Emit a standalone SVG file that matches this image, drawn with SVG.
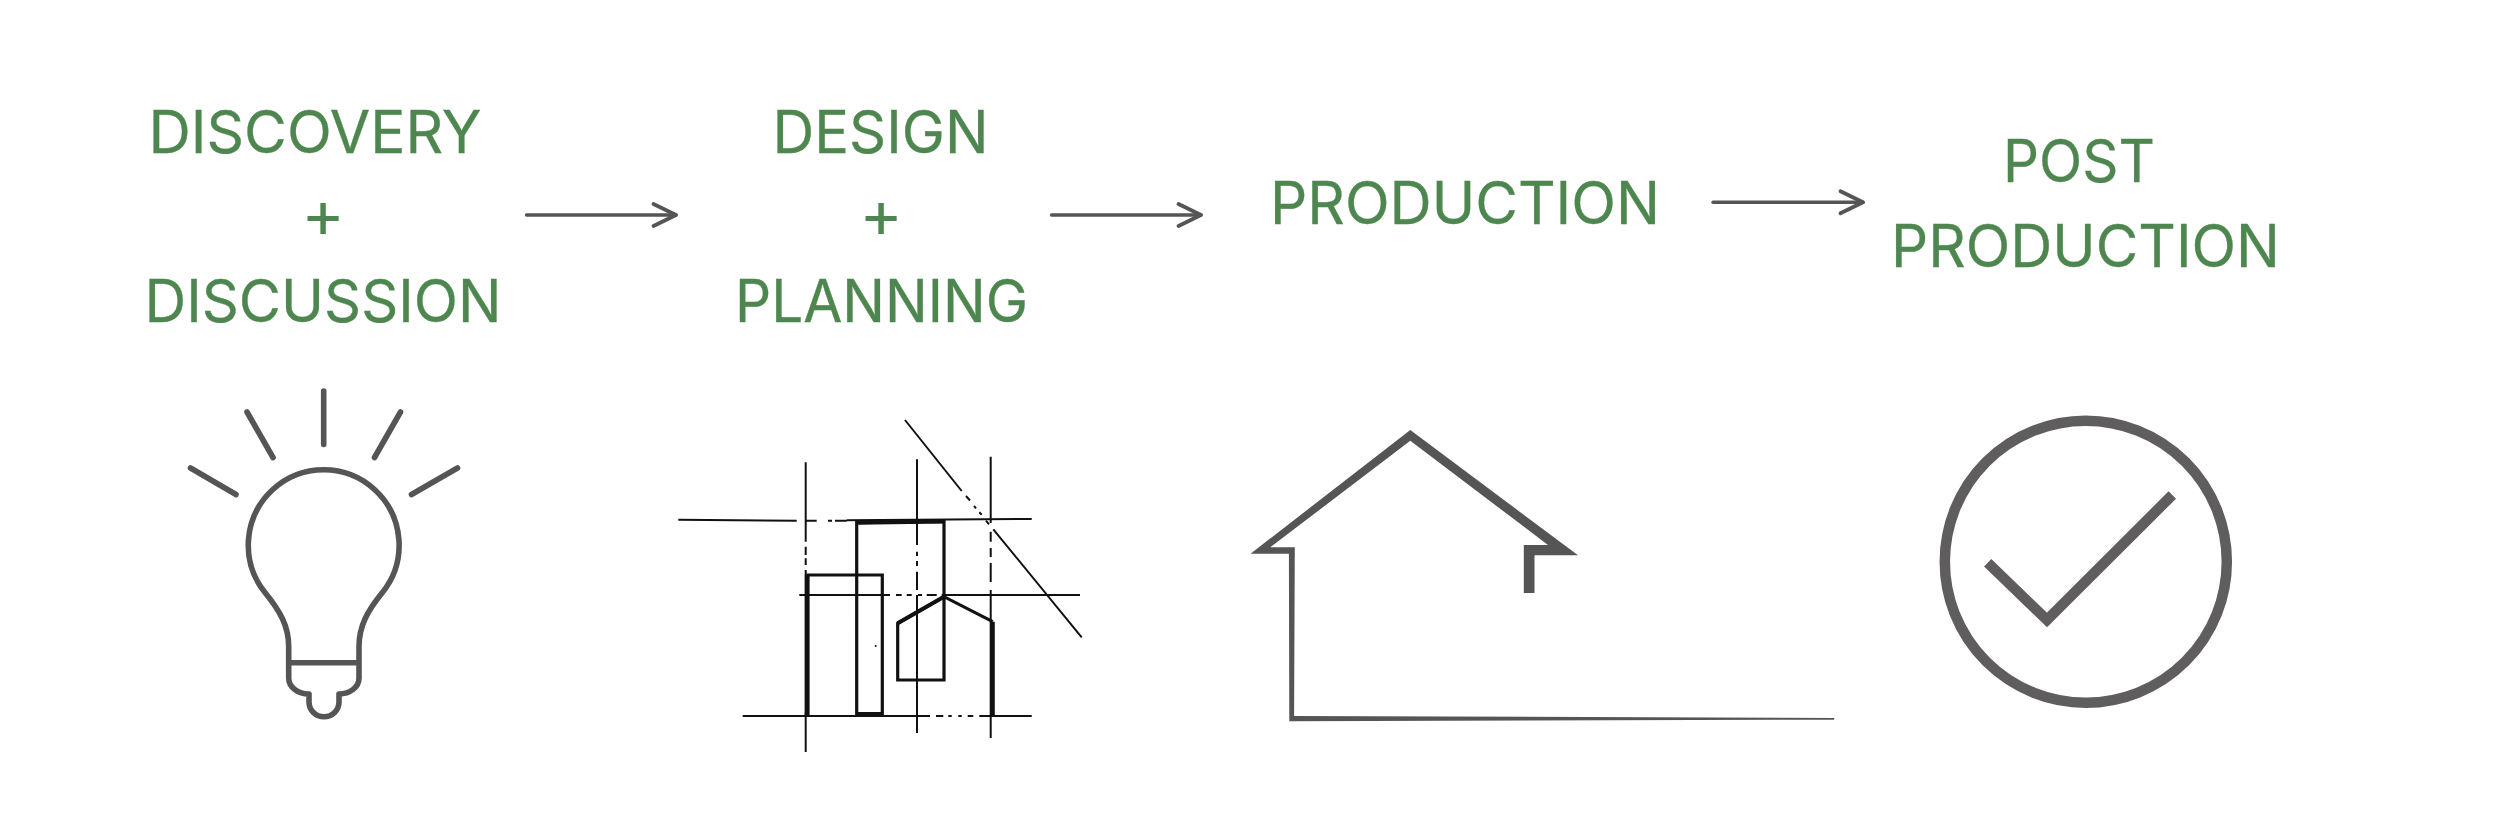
<svg xmlns="http://www.w3.org/2000/svg" width="2500" height="833" viewBox="0 0 2500 833">
<style>
.t{font-family:"Inter","Liberation Sans",sans-serif;font-size:59px;font-weight:400;fill:#4e864f;stroke:#4e864f;stroke-width:.3}
.p{text-anchor:middle;font-size:66px;stroke-width:0}
.a{fill:none;stroke:#555;stroke-width:3.4;stroke-linecap:round;marker-end:url(#head)}
.b{fill:none;stroke:#555;stroke-width:5.6;stroke-linecap:round;stroke-linejoin:round}
.s{fill:none;stroke:#111;stroke-width:2}
.k{fill:none;stroke:#111;stroke-width:3.2;stroke-linejoin:miter}
.kk{fill:none;stroke:#111;stroke-width:4.2}
</style>
<defs>
<marker id="head" markerUnits="userSpaceOnUse" markerWidth="40" markerHeight="40" refX="30" refY="20" viewBox="0 0 40 40" orient="auto" overflow="visible">
<path d="M7.500 9L30 20L7.500 31" fill="none" stroke="#555" stroke-width="3.800" stroke-linecap="round" stroke-linejoin="round"/>
</marker>
</defs>
<rect width="2500" height="833" fill="#fff"/>
<g id="node-discovery">
<text class="t" x="148.500" y="152.500" textLength="333" lengthAdjust="spacingAndGlyphs">DISCOVERY</text>
<text class="t p" x="323" y="237">+</text>
<text class="t" x="144.500" y="321.700" textLength="357" lengthAdjust="spacingAndGlyphs">DISCUSSION</text>
<g id="icon-bulb">
<path class="b" d="M323.700 391V444.500M247 412L273 457.500M400.500 412L374.500 457.500M190.500 468L236 494.500M457.500 468L411.500 494.500"/>
<path class="b" d="M288.700 662.700V646.700C288.700 626 280 611 265 592.500A75.400 75.400 0 1 1 382.400 592.500C367.400 611 359 626 359 646.700V678.300C359 687 350 694 339 694V702A15 14.700 0 0 1 309 702V694C298 694 288.700 687 288.700 678.300V662.700H359"/>
</g>
</g>
<g id="node-design">
<text class="t" x="772.500" y="152.500" textLength="216" lengthAdjust="spacingAndGlyphs">DESIGN</text>
<text class="t p" x="881" y="237">+</text>
<text class="t" x="735" y="321.700" textLength="293" lengthAdjust="spacingAndGlyphs">PLANNING</text>
<g id="icon-sketch">
<path class="s" d="M805.700 462.300V541.700M805.700 546.700V555M805.700 558.300V565M805.700 570V575M805.700 713V752"/>
<path class="s" d="M917 459.300V545M917 551.700V556M917 561V566M917 571.700V590M917 595V733"/>
<path class="s" d="M990.700 456.700V523M990.700 531.700V541.700M990.700 548V557M990.700 563V582M990.700 590V738"/>
<path class="s" d="M678.300 519.700L796.700 520.700M805 520.700H816.700M828 520.700H832M835 520.700H846.700M846.700 520.300L1031.700 519"/>
<path class="s" d="M799.300 595H890M896 595H901.700M906.700 595H911.700M918 595H922M926.700 595H936.700M941.700 595H1080"/>
<path class="s" d="M742.700 716H930M936 716H943.300M948.300 716H951.700M958.300 716H961.700M967.700 716H973.300M979.300 716H1031.700"/>
<path class="s" d="M905 420L961.700 491M966 496L970 500.500M974 506L976 508.300M979.300 512.300L981.700 514.700M986 520.700L989 524.300M993.300 529.300L1081.700 637.300"/>
<path class="k" d="M856.700 715V522.700L944 521.500V680H897.700V623.300L944 596.700L992.700 621.700"/>
<path class="k" d="M808 715V575H882.300V715"/>
<path class="kk" d="M806.700 575V715M856.700 714H882.300M992.700 621.700V715M856.700 522.700L944 521.500M944 596.700L897.700 623.300"/>
<circle cx="875.700" cy="646" r="1" fill="#111"/>
</g>
</g>
<g id="node-production">
<text class="t" x="1270" y="224.300" textLength="390" lengthAdjust="spacingAndGlyphs">PRODUCTION</text>
<polygon id="icon-house" fill="#555" points="1410.300,430 1578,555.300 1534.500,555.300 1534.500,593 1523.800,593 1523.800,545 1548,545 1410.300,440.700 1270.300,547.300 1294.800,547.300 1294.100,716 1834.200,718 1834.200,719.700 1289.300,721.300 1288.900,553.700 1250.600,553.700"/>
</g>
<g id="node-post-production">
<text class="t" x="2003" y="182.300" textLength="152" lengthAdjust="spacingAndGlyphs">POST</text>
<text class="t" x="1891" y="266.700" textLength="389" lengthAdjust="spacingAndGlyphs">PRODUCTION</text>
<g id="icon-check" fill="none" stroke="#5f5d5e" stroke-width="10.500">
<circle cx="2085.800" cy="561.700" r="141"/>
<path d="M1987.700 562.700L2047 620L2172.300 495" stroke-miterlimit="10"/>
</g>
</g>
<g id="connectors">
<path class="a" d="M526.500 215H676"/>
<path class="a" d="M1051.500 215H1201"/>
<path class="a" d="M1713 202.300H1863"/>
</g>
</svg>
